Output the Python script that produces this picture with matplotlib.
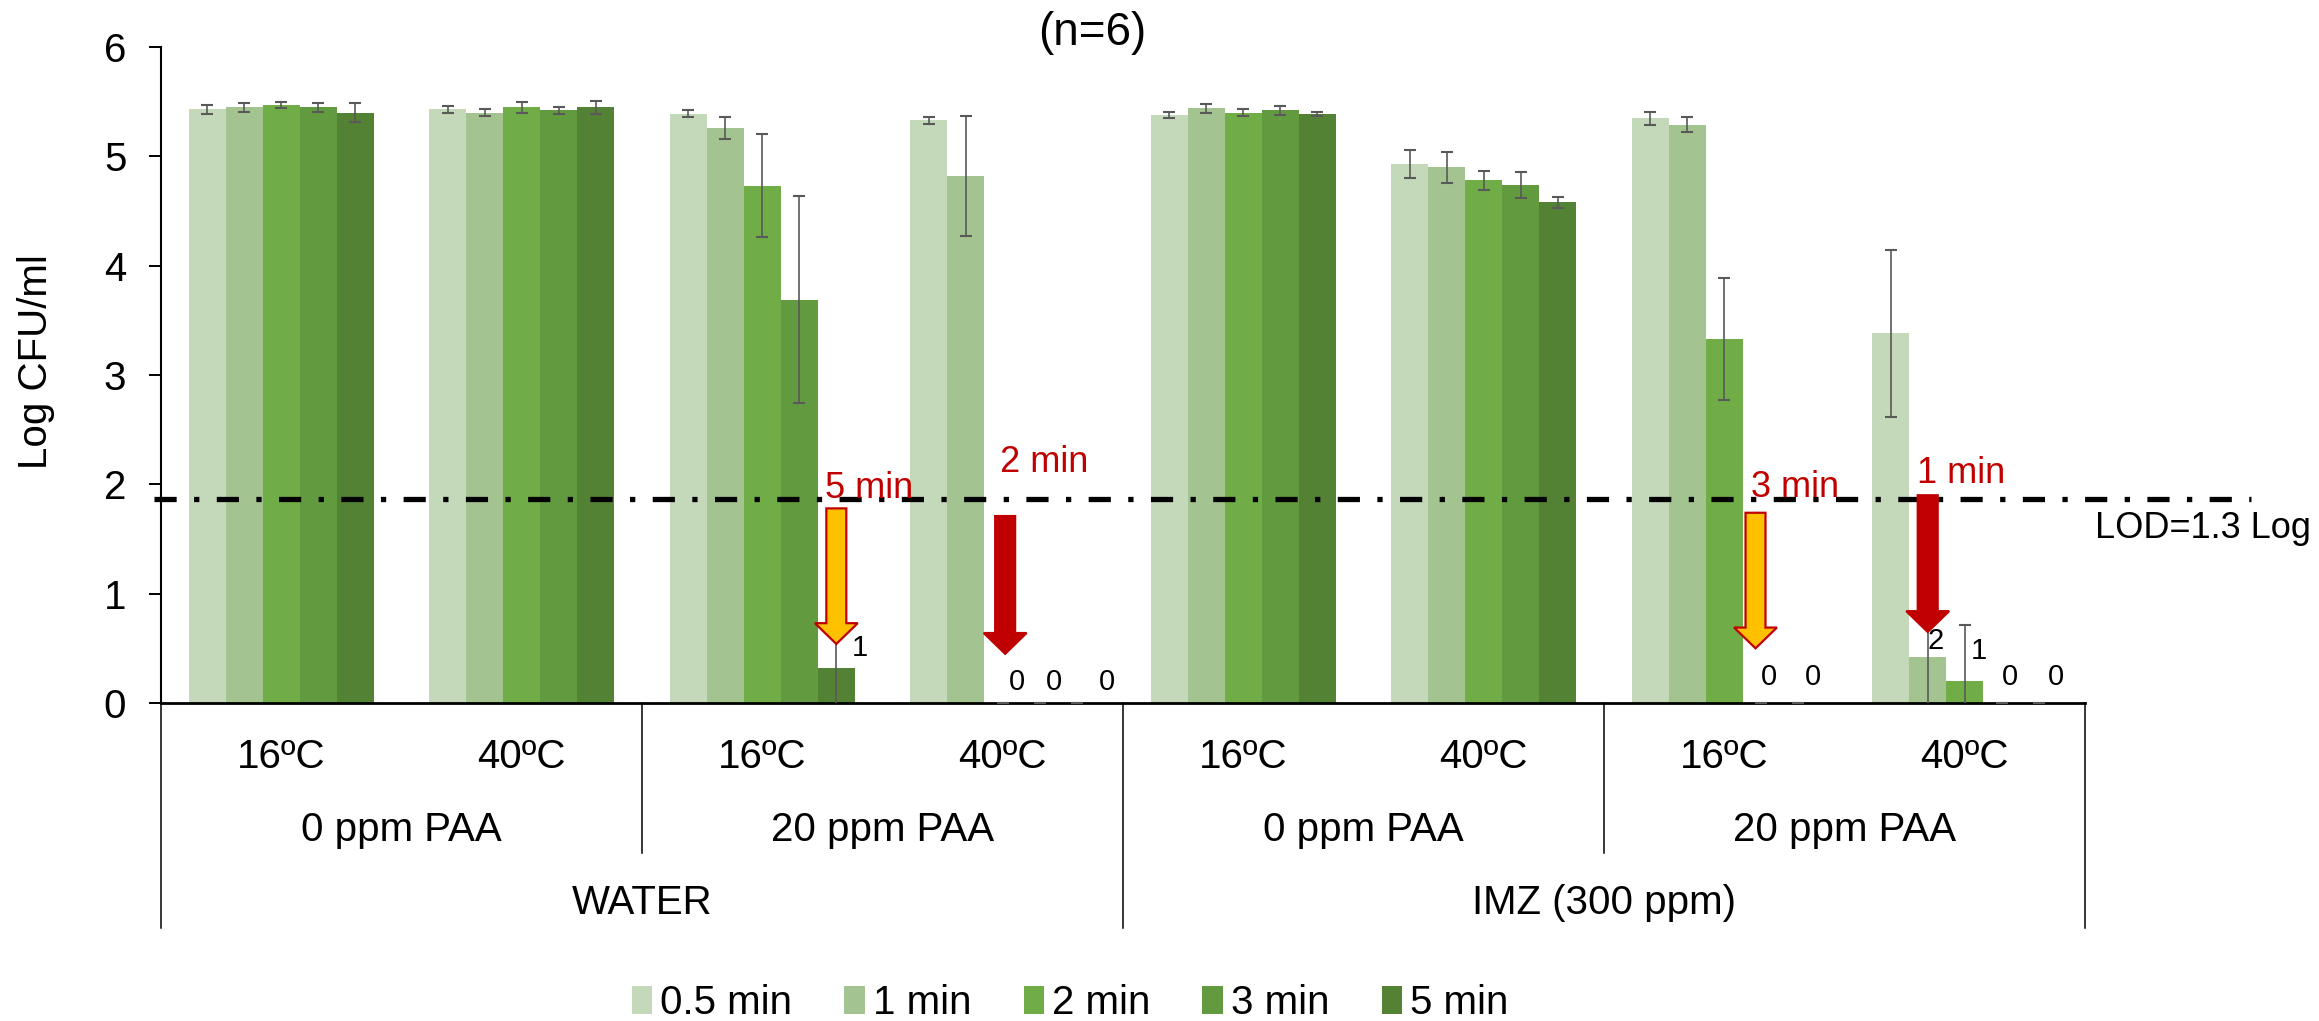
import numpy as np
import matplotlib.pyplot as plt
from matplotlib.patches import FancyArrow
from matplotlib.lines import Line2D
import matplotlib.transforms as mtransforms

plt.rcParams['font.family'] = ['Liberation Sans', 'DejaVu Sans']

# %%
# Data: Log CFU/ml per treatment (n=6), mean and error
series = ['0.5 min', '1 min', '2 min', '3 min', '5 min']
temps = ['16ºC', '40ºC', '16ºC', '40ºC', '16ºC', '40ºC', '16ºC', '40ºC']
paa = ['0 ppm PAA', '20 ppm PAA', '0 ppm PAA', '20 ppm PAA']
wash = ['WATER', 'IMZ (300 ppm)']

means = [
    [5.43, 5.43, 5.39, 5.33, 5.38, 4.93, 5.35, 3.38],  # 0.5 min
    [5.45, 5.40, 5.26, 4.82, 5.44, 4.90, 5.29, 0.42],  # 1 min
    [5.47, 5.45, 4.73, 0.00, 5.40, 4.78, 3.33, 0.20],  # 2 min
    [5.45, 5.42, 3.69, 0.00, 5.42, 4.74, 0.00, 0.00],  # 3 min
    [5.40, 5.45, 0.32, 0.00, 5.39, 4.58, 0.00, 0.00],  # 5 min
]
errs = [
    [0.04, 0.03, 0.03, 0.03, 0.03, 0.13, 0.06, 0.76],
    [0.04, 0.03, 0.10, 0.55, 0.04, 0.14, 0.07, 0.45],
    [0.03, 0.05, 0.47, 0.00, 0.03, 0.09, 0.56, 0.51],
    [0.04, 0.03, 0.95, 0.00, 0.04, 0.12, 0.00, 0.00],
    [0.09, 0.06, 0.35, 0.00, 0.02, 0.05, 0.00, 0.00],
]
lod = 1.87

# data labels (text, x, y)
point_labels = [('1', 2.906, 0.50),
                ('0', 3.56, 0.19), ('0', 3.713, 0.19), ('0', 3.933, 0.19),
                ('0', 6.686, 0.24), ('0', 6.869, 0.24),
                ('2', 7.38, 0.57), ('1', 7.56, 0.48),
                ('0', 7.688, 0.24), ('0', 7.88, 0.24)]

# arrows: (label, x, tail, tip, style, label x, label y)
arrows = [('5 min', 2.808, 1.78, 0.54, 'outline', 2.76, 1.96),
          ('2 min', 3.51, 1.71, 0.45, 'solid', 3.49, 2.20),
          ('3 min', 6.63, 1.74, 0.50, 'outline', 6.61, 1.97),
          ('1 min', 7.346, 1.90, 0.65, 'solid', 7.30, 2.10)]

colors = ['#C4D8BA', '#A3C490', '#70AD47', '#629B3F', '#548235']
red = '#C00000'

# %%
fig = plt.figure(figsize=(23.19, 10.21), dpi=100)
ax = fig.add_axes([161/2319, 1 - 703/1021, 1924/2319, 656/1021])

x = np.arange(len(temps)) + 0.5
w = 0.154
for i, s in enumerate(series):
    pos = x + (i - 2) * w
    ax.bar(pos, means[i], width=w, color=colors[i], label=s, zorder=2)
    ax.errorbar(pos, means[i], yerr=errs[i], fmt='none', ecolor='#595959',
                elinewidth=1.2, capsize=4.5, capthick=1.5, zorder=3)

ax.set_xlim(0, 8)
ax.set_ylim(0, 6)
ax.set_xticks([])
ax.set_yticks(range(7))
ax.tick_params(axis='y', labelsize=29, length=9, width=1.4, pad=16)
for sp in ['top', 'right']:
    ax.spines[sp].set_visible(False)
ax.spines['left'].set_linewidth(1.5)
ax.spines['bottom'].set_linewidth(2)

fig.text(36/2319, 1 - 362/1021, 'Log CFU/ml', rotation=90, fontsize=29,
         ha='center', va='center')
fig.text(1092/2319, 1 - 33/1021, '(n=6)', fontsize=33, ha='center', va='center')

# LOD line
ax.plot([-0.03, 8.69], [lod, lod], color='black', lw=3.8,
        linestyle=(0, (4.2, 3.3, 1, 3.3)), clip_on=False, zorder=4)
ax.text(8.04, 1.6, 'LOD=1.3 Log', fontsize=26, ha='left', va='center')

# arrows and their labels
for lab, ax_x, tail, tip, style, tx, ty in arrows:
    if style == 'outline':
        fc, ec = '#FFC000', red
    else:
        fc, ec = red, red
    arr = FancyArrow(ax_x, tail, 0, tip - tail, width=0.083, head_width=0.178,
                     head_length=0.19, length_includes_head=True,
                     facecolor=fc, edgecolor=ec, linewidth=1.6, zorder=5)
    ax.add_patch(arr)
    ax.text(tx, ty, lab, fontsize=26, color=red, ha='left', va='center', zorder=6)

for t, lx, ly in point_labels:
    ax.text(lx, ly, t, fontsize=21, ha='center', va='center', zorder=6)

# multi-level category axis
trans = mtransforms.blended_transform_factory(ax.transData, fig.transFigure)
for i, t in enumerate(temps):
    ax.text(i + 0.5, 1 - 757/1021, t, fontsize=29, ha='center', va='center',
            transform=trans)
for i, t in enumerate(paa):
    ax.text(2 * i + 1, 1 - 830/1021, t, fontsize=29, ha='center', va='center',
            transform=trans)
for i, t in enumerate(wash):
    ax.text(4 * i + 2, 1 - 903/1021, t, fontsize=29, ha='center', va='center',
            transform=trans)

for bx in [0, 2, 4, 6, 8]:
    y_end = 928 if bx % 4 == 0 else 853
    ax.add_line(Line2D([bx, bx], [1 - 703/1021, 1 - y_end/1021], color='black',
                       lw=1.1, transform=trans, clip_on=False))

fig.legend(loc='center', bbox_to_anchor=(1070/2319, 1 - 1003/1021), ncol=5,
           frameon=False, fontsize=29, handlelength=0.5, handleheight=0.7,
           handletextpad=0.2, columnspacing=1.3, borderaxespad=0)

fig.savefig('out.png', dpi=100)
